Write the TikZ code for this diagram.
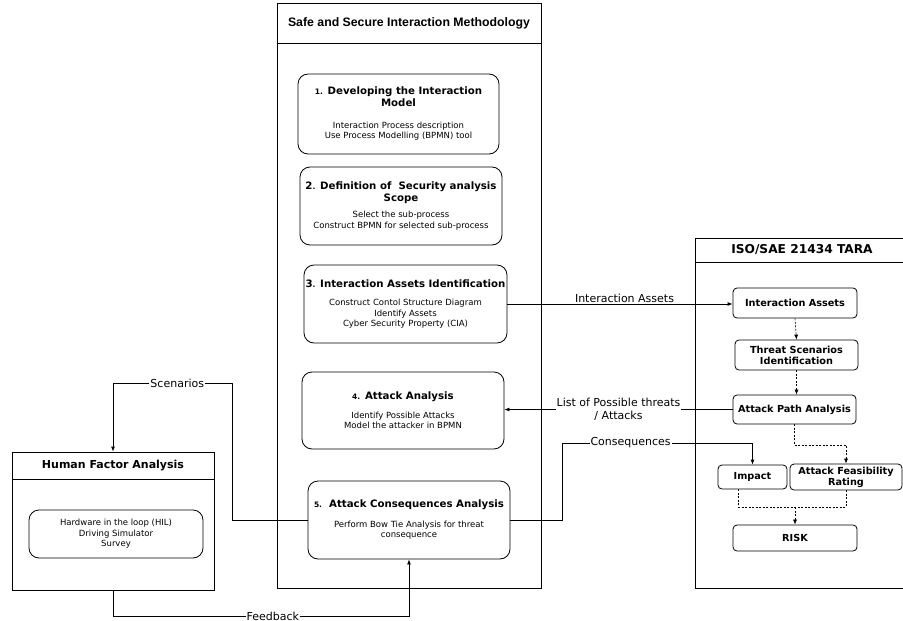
\documentclass[tikz,border=0pt]{standalone}
\usepackage{fontspec}
\setmainfont{DejaVu Sans}
\newfontfamily\arialfont{Liberation Sans}
\usetikzlibrary{arrows.meta}

\newcommand\bodyfont{\fontsize{8.5}{10.5}\selectfont}
\newcommand\headfont{\fontsize{10.2}{12}\selectfont\bfseries}
\newcommand\numfont{\fontsize{7.5}{12}\selectfont\bfseries}

\begin{document}
\begin{tikzpicture}[
    x=1pt, y=-1pt,
    line width=0.8pt,
    container/.style={draw, inner sep=0pt},
    stepbox/.style={draw, rounded corners=10pt, align=center, font=\bodyfont, inner sep=0pt},
    tarabox/.style={draw, rounded corners=4pt, align=center, inner sep=0pt,
      font=\fontsize{9.7}{11}\selectfont\bfseries},
    flow/.style={-{Latex[length=5pt,width=4pt]}},
    dep/.style={flow, dash pattern=on 2pt off 1.5pt, line width=0.6pt},
    lbl/.style={fill=white, inner sep=1pt, align=center, font=\fontsize{11}{13.5}\selectfont}
  ]
  \useasboundingbox (0, 0) rectangle (903, 621);

  % methodology column
  \node [container, minimum width=264pt, minimum height=585pt] (ssim) at (409, 295.5) {};
  \draw ([yshift=-41pt]ssim.north west) -- ([yshift=-41pt]ssim.north east);
  \node [font=\arialfont\fontsize{12.3}{14}\selectfont\bfseries] (ssimtitle) at (409, 23)
    {Safe and Secure Interaction Methodology};

  % steps
  \node [stepbox, minimum width=201pt, minimum height=80pt] (s1) at (398.5, 114)
    {{\headfont{\numfont 1.} Developing the Interaction}\\[1.5pt]{\headfont Model}\\[11pt]
     Interaction Process description\\Use Process Modelling (BPMN) tool};
  \node [stepbox, minimum width=202pt, minimum height=78pt] (s2) at (401, 206)
    {{\headfont 2{\numfont .} Definition of\ \ Security analysis}\\[1.5pt]{\headfont Scope}\\[6pt]
     Select the sub-process\\Construct BPMN for selected sub-process};
  \node [stepbox, minimum width=203pt, minimum height=78pt] (s3) at (405.5, 304)
    {{\headfont 3{\numfont .} Interaction Assets Identification}\\[8pt]
     Construct Contol Structure Diagram\\Identify Assets\\Cyber Security Property (CIA)};
  \node [stepbox, minimum width=202pt, minimum height=77pt] (s4) at (403, 410.5)
    {{\headfont{\numfont 4.} Attack Analysis}\\[8pt]
     Identify Possible Attacks\\Model the attacker in BPMN};
  \node [stepbox, minimum width=202pt, minimum height=78pt] (s5) at (409, 520)
    {{\headfont{\numfont 5.}\ \ Attack Consequences Analysis}\\[9pt]
     Perform Bow Tie Analysis for threat\\consequence};

  % TARA column
  \node [container, minimum width=214pt, minimum height=350pt] (tara) at (802, 413) {};
  \draw ([yshift=-25pt]tara.north west) -- ([yshift=-25pt]tara.north east);
  \node [font=\fontsize{12.2}{14}\selectfont\bfseries] (taratitle) at (802, 250) {ISO/SAE 21434 TARA};

  \node [tarabox, minimum width=124pt, minimum height=30pt] (ia) at (795, 303) {Interaction Assets};
  \node [tarabox, minimum width=123pt, minimum height=30pt] (ts) at (796.5, 355)
    {Threat Scenarios\\Identification};
  \node [tarabox, minimum width=123pt, minimum height=29pt] (apa) at (794.5, 409.5) {Attack Path Analysis};
  \node [tarabox, minimum width=69pt, minimum height=24pt] (impact) at (752.5, 477) {Impact};
  \node [tarabox, minimum width=112pt, minimum height=26pt] (afr) at (846, 477)
    {Attack Feasibility\\Rating};
  \node [tarabox, minimum width=124pt, minimum height=26pt] (risk) at (795, 538) {RISK};

  \draw [dep] (ia.south) -- (ts.north);
  \draw [dep] (ts.south) -- (ts.south |- apa.north);
  \draw [dep] (apa.south) -- ++(0, 21) -| (afr.north);
  \coordinate (rk) at (risk.north |- 0, 507);
  \draw [dash pattern=on 2pt off 1.5pt, line width=0.6pt] ([xshift=-14pt]impact.south) |- (rk);
  \draw [dash pattern=on 2pt off 1.5pt, line width=0.6pt] (afr.south) |- (rk);
  \draw [dep] (rk) -- (risk.north);

  % human factor box
  \node [container, minimum width=202pt, minimum height=138pt] (hfa) at (113, 521) {};
  \draw ([yshift=-28pt]hfa.north west) -- ([yshift=-28pt]hfa.north east);
  \node [font=\fontsize{11}{13}\selectfont\bfseries] (hfatitle) at (113, 466) {Human Factor Analysis};
  \node [stepbox, minimum width=174pt, minimum height=48pt] (hfi) at (116, 534)
    {Hardware in the loop (HIL)\\Driving Simulator\\Survey};

  % connectors
  \draw [flow] (s3.east) -- (s3.east -| ia.west)
    node [lbl, pos=0.52, yshift=6pt] {Interaction Assets};
  \draw [flow] (apa.west) -- (apa.west -| s4.east)
    node [lbl, midway] {List of Possible threats\\/ Attacks};
  \coordinate (cq) at (562, 443);
  \draw [flow] (s5.east) -| (cq) -| (impact.north)
    node [lbl, pos=0.18] {Consequences};
  \coordinate (sc) at (232, 383);
  \draw [flow] (s5.west) -| (sc) -| (hfa.north)
    node [lbl, pos=0.23] {Scenarios};
  \coordinate (fb) at (hfa.south |- 0, 616);
  \draw [flow] (hfa.south) -- (fb) -| (s5.south)
    node [lbl, pos=0.27] {Feedback};
\end{tikzpicture}
\end{document}
